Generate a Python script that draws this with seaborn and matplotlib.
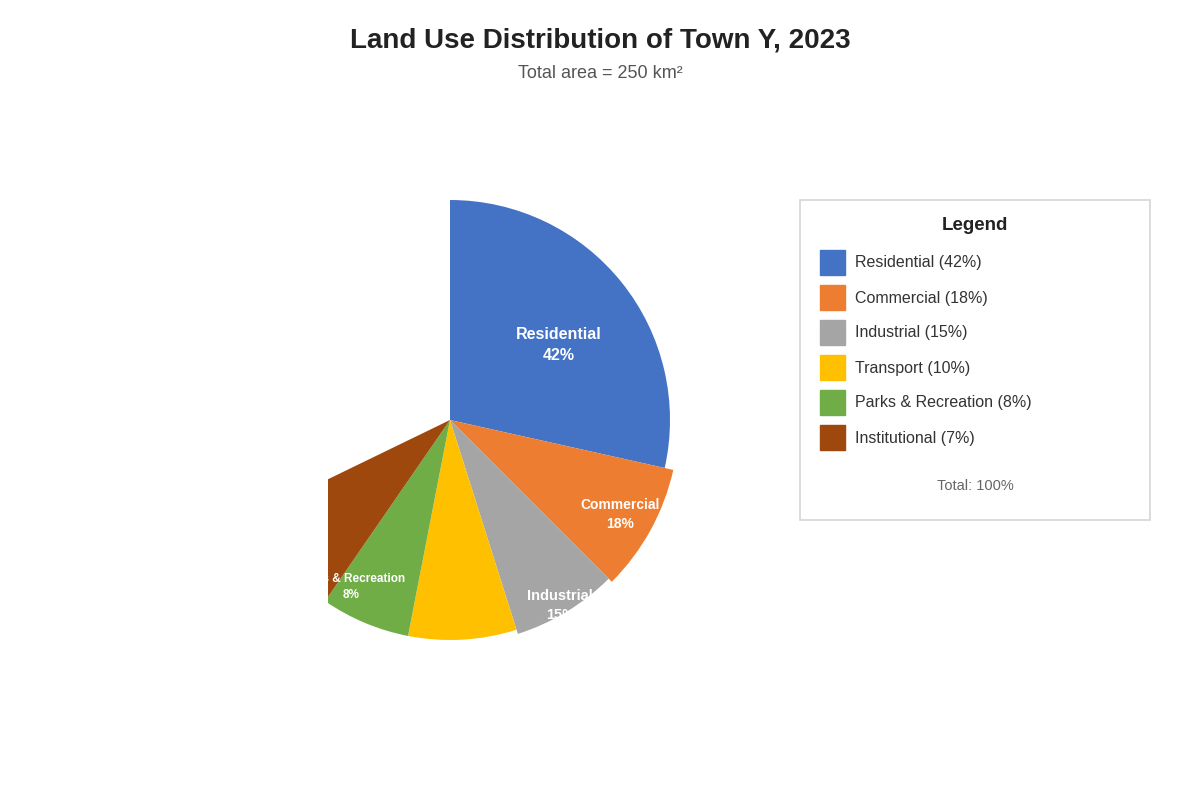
import matplotlib
matplotlib.use("Agg")
import matplotlib.pyplot as plt
from matplotlib.patches import Rectangle
import numpy as np
import seaborn as sns

# data
categories = ["Residential", "Commercial", "Industrial", "Transport",
              "Parks & Recreation", "Institutional"]
shares = [42, 18, 15, 10, 8, 7]
# sweep of each slice as drawn in the picture (degrees, clockwise from 12 o'clock)
sweep_deg = [102.6, 32.4, 27.4, 28.6, 23.6, 29.5]
colors = ["#4472C4", "#ED7D31", "#A5A5A5", "#FFC000", "#70AD47", "#9E480E"]

sns.set_theme(style="white")
plt.rcParams["font.family"] = ["Liberation Sans", "DejaVu Sans"]

W, H = 1200, 800
fig = plt.figure(figsize=(12, 8), dpi=100)

# pie axes (center at px 450,420, radius 220 px; left side cut at px 328)
ax = fig.add_axes([328 / W, (H - 660) / H, 372 / W, 480 / H])
wedges, _ = ax.pie(np.array(sweep_deg) / 360, normalize=False,
                   colors=sns.color_palette(colors), startangle=90,
                   counterclock=False, radius=1,
                   wedgeprops=dict(linewidth=0))
for w in wedges:
    w.set_clip_on(True)
wedges[1].set_radius(1.04)
wedges[2].set_radius(1.02)
ax.set_xlim(-122 / 220, 250 / 220)
ax.set_ylim(-240 / 220, 240 / 220)
ax.set_aspect("auto")
ax.axis("off")

# slice labels (white, only some shown); frac = where along the sweep, r = radius
label_frac = [0.54, 0.51, 0.52, None, 0.83, None]
label_r = [0.6, 0.885, 0.98, None, 0.88, None]
label_fs = [11.5, 10, 10.5, None, 8.5, None]
for w, name, s, f, r, fs in zip(wedges, categories, shares,
                                label_frac, label_r, label_fs):
    if r is None:
        continue
    ang = np.deg2rad(w.theta2 - f * (w.theta2 - w.theta1))
    ax.text(r * np.cos(ang), r * np.sin(ang), f"{name}\n{s}%",
            ha="center", va="center", color="white", fontsize=fs,
            fontweight="bold", linespacing=1.45)

# titles
fig.text(0.5, 1 - 40 / H, "Land Use Distribution of Town Y, 2023",
         ha="center", va="center", fontsize=20, fontweight="bold", color="#222222")
fig.text(0.5, 1 - 74 / H, "Total area = 250 km²",
         ha="center", va="center", fontsize=13, color="#555555")

# legend box
lax = fig.add_axes([800 / W, (H - 520) / H, 350 / W, 320 / H])
lax.set_xlim(0, 350)
lax.set_ylim(320, 0)
lax.axis("off")
lax.add_patch(Rectangle((0, 0), 350, 320, fill=False, edgecolor="#d5d5d5",
                        lw=1.2, clip_on=False))
lax.text(175, 25, "Legend", ha="center", va="center", fontsize=13.5,
         fontweight="bold", color="#222222")
for i, (name, s, c) in enumerate(zip(categories, shares, colors)):
    y = 62.5 + 35 * i
    lax.add_patch(Rectangle((20, y - 12.5), 25, 25, color=c))
    lax.text(55, y + 0.5, f"{name} ({s}%)", ha="left", va="center",
             fontsize=11.5, color="#333333")
lax.text(175, 286, "Total: 100%", ha="center", va="center",
         fontsize=10.5, color="#666666")

fig.savefig("out.png", dpi=100)
